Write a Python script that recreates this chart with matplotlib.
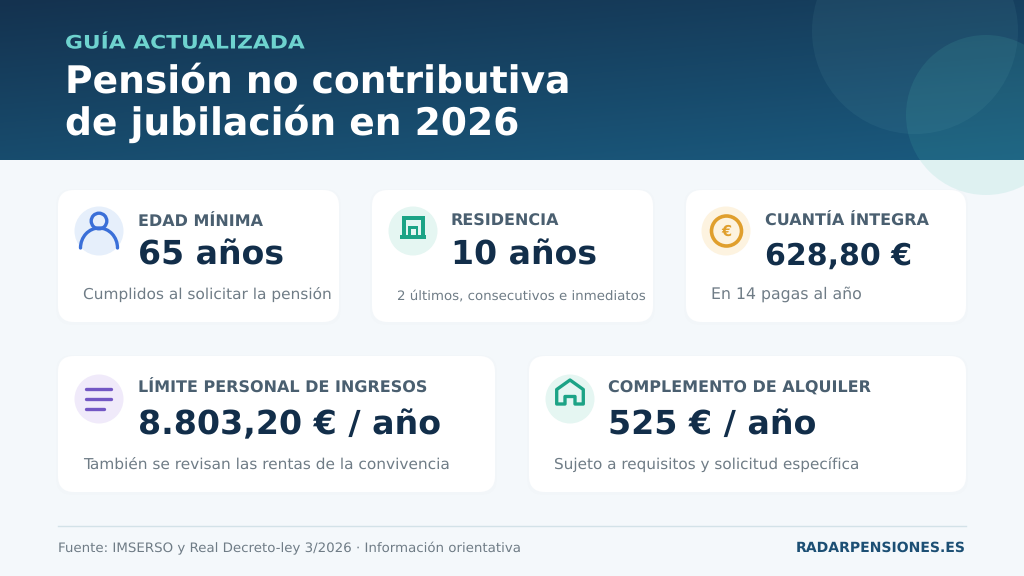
import numpy as np
import matplotlib
matplotlib.use("Agg")
import matplotlib.pyplot as plt
import matplotlib.patheffects as pe
from matplotlib.patches import FancyBboxPatch, Circle, Arc, Rectangle, Polygon
from matplotlib.colors import LinearSegmentedColormap
from matplotlib.transforms import Affine2D

plt.rcParams["text.hinting"] = "no_hinting"

kicker = "GUÍA ACTUALIZADA"
title_lines = ["Pensión no contributiva", "de jubilación en 2026"]

labels = ["EDAD MÍNIMA", "RESIDENCIA", "CUANTÍA ÍNTEGRA",
          "LÍMITE PERSONAL DE INGRESOS", "COMPLEMENTO DE ALQUILER"]
values = ["65 años", "10 años", "628,80 €", "8.803,20 € / año", "525 € / año"]
notes = ["Cumplidos al solicitar la pensión", "2 últimos, consecutivos e inmediatos",
         "En 14 pagas al año", "También se revisan las rentas de la convivencia",
         "Sujeto a requisitos y solicitud específica"]

source = "Fuente: IMSERSO y Real Decreto-ley 3/2026 · Información orientativa"
brand = "RADARPENSIONES.ES"

# card boxes in pixels: left, top, right, bottom
boxes = [(58, 190, 339, 322), (372, 190, 653, 322), (686, 190, 966, 322),
         (58, 356, 495, 492), (529, 356, 966, 492)]
icon_bg = ["#e6effb", "#e5f6f2", "#fdf3e0", "#f0eafa", "#e5f6f2"]
icon_xy = [(99, 231), (413, 231), (726, 231), (99, 399), (570, 399)]
text_x = [138, 451, 765, 138, 608]
note_x = [83, 397, 711, 83, 554]
note_px = [15.4, 13.4, 15.8, 15.4, 15.3]
value_px = [33.2, 33.2, 30.0, 33.25, 33.3]
rows_y = [(226, 265, 299), (226, 265, 299), (226, 265, 299),
          (393, 434, 469), (393, 434, 469)]

NAVY = "#122e4a"
SLATE = "#4a5f70"
GREY = "#6f7c86"
BLUE = "#3a6fd8"
GREEN = "#1ca386"
GOLD = "#e09f2d"
PURPLE = "#7357c4"


def px(size):
    return size * 0.72


class StretchX(pe.AbstractPathEffect):
    # the kicker is letter-spaced in the original, matplotlib has no tracking
    def __init__(self, x0, factor):
        super().__init__()
        self.x0 = x0
        self.factor = factor

    def draw_path(self, renderer, gc, tpath, affine, rgbFace=None):
        stretch = Affine2D().translate(-self.x0, 0).scale(self.factor, 1).translate(self.x0, 0)
        renderer.draw_path(gc, tpath, affine + stretch, rgbFace)


fig = plt.figure(figsize=(10.24, 5.76), dpi=100, facecolor="#f4f8fb")
ax = fig.add_axes([0, 0, 1, 1])

# header gradient
cmap = LinearSegmentedColormap.from_list("hdr", ["#14324f", "#1a5a7e"])
xx, yy = np.meshgrid(np.linspace(0, 1, 512), np.linspace(0, 1, 160))
ax.imshow(0.35 * xx + 0.65 * yy, extent=(0, 1024, 160, 0), cmap=cmap, vmin=0, vmax=1,
          aspect="auto", interpolation="bilinear", zorder=1)
ax.set_xlim(0, 1024)
ax.set_ylim(576, 0)
ax.axis("off")

ax.add_patch(Circle((915, 31), 103, fc="#7fc4c8", alpha=0.08, ec="none", zorder=2))
ax.add_patch(Circle((986, 115), 80, fc="#4fc4b5", alpha=0.13, ec="none", zorder=2))

ax.text(65, 48.5, kicker, color="#6ed3cf", fontsize=px(18.5), fontweight="bold",
        va="baseline", zorder=5, path_effects=[StretchX(65, 1.18)])
ax.text(65, 92.5, title_lines[0], color="white", fontsize=px(37.6), fontweight="bold",
        va="baseline", zorder=5)
ax.text(65, 135, title_lines[1], color="white", fontsize=px(37.6), fontweight="bold",
        va="baseline", zorder=5)

# cards
for i, (l, t, r, b) in enumerate(boxes):
    ax.add_patch(FancyBboxPatch((l + 14, t + 15), r - l - 28, b - t - 28,
                                boxstyle="round,pad=16,rounding_size=16",
                                fc="#123a5a", alpha=0.008, ec="none", zorder=3))
    ax.add_patch(FancyBboxPatch((l + 16, t + 16), r - l - 32, b - t - 32,
                                boxstyle="round,pad=16,rounding_size=16",
                                fc="white", ec="none", zorder=4))
    ax.add_patch(Circle(icon_xy[i], 24.5, fc=icon_bg[i], ec="none", zorder=5))
    y1, y2, y3 = rows_y[i]
    ax.text(text_x[i], y1, labels[i], color=SLATE, fontsize=px(16), fontweight="bold",
            va="baseline", zorder=6)
    ax.text(text_x[i], y2, values[i], color=NAVY, fontsize=px(value_px[i]), fontweight="bold",
            va="baseline", zorder=6)
    ax.text(note_x[i], y3, notes[i], color=GREY, fontsize=px(note_px[i]),
            va="baseline", zorder=6)

# person icon
cx, cy = icon_xy[0]
ax.add_patch(Circle((cx, cy - 10), 7.8, fc="none", ec=BLUE, lw=2.4, zorder=7))
ax.add_patch(Arc((cx, cy + 17), 37, 40, theta1=180, theta2=360, ec=BLUE, lw=2.4,
                 zorder=7, capstyle="round"))

# building icon
ax.add_patch(Rectangle((402, 216), 23, 21, fc=GREEN, ec="none", zorder=7))
ax.add_patch(Rectangle((406, 220), 15, 15, fc=icon_bg[1], ec="none", zorder=7))
ax.add_patch(Rectangle((408, 226), 10, 9, fc=GREEN, ec="none", zorder=7))
ax.add_patch(Rectangle((410.5, 229), 5, 6, fc=icon_bg[1], ec="none", zorder=7))
ax.add_patch(Rectangle((400, 235), 26, 4, fc=GREEN, ec="none", zorder=7))

# coin icon
cx, cy = icon_xy[2]
ax.add_patch(Circle((cx + 0.5, cy), 15, fc="none", ec=GOLD, lw=2.6, zorder=7))
ax.text(cx + 0.5, cy + 0.5, "€", color=GOLD, fontsize=px(14.5), fontweight="bold",
        ha="center", va="center", zorder=7)

# lines icon
cx, cy = icon_xy[3]
for dy, x0, x1 in [(-10, -13.3, 12.3), (0, -13.3, 12.3), (10, -13.3, 5.3)]:
    ax.plot([cx + x0, cx + x1], [cy + dy, cy + dy], color=PURPLE, lw=2.4,
            solid_capstyle="round", zorder=7)

# house icon
cx, cy = icon_xy[4]
ax.add_patch(Polygon([(cx - 13.3, cy + 5), (cx - 13.3, cy - 9.5), (cx, cy - 19),
                      (cx + 13.3, cy - 9.5), (cx + 13.3, cy + 5), (cx + 5, cy + 5),
                      (cx + 5, cy - 2.5), (cx - 5, cy - 2.5), (cx - 5, cy + 5)],
                     closed=True, fc="none", ec=GREEN, lw=2.4, joinstyle="round", zorder=7))

# footer
ax.plot([58, 966], [525.5, 525.5], color="#d3e2e8", lw=1, zorder=2)
ax.text(58, 552, source, color=GREY, fontsize=px(13.4), va="baseline", zorder=5)
ax.text(966, 552, brand, color="#1c4f74", fontsize=px(14), fontweight="bold",
        ha="right", va="baseline", zorder=5)

fig.savefig("out.png", dpi=100, facecolor=fig.get_facecolor())
